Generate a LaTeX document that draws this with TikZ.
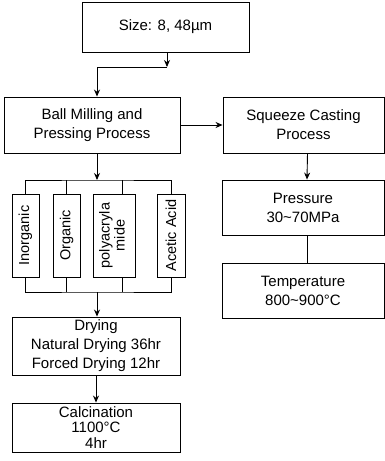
\documentclass[tikz,border=0pt]{standalone}
\usepackage{fontspec}
\setmainfont{Liberation Sans}
\usetikzlibrary{arrows.meta}
\newcommand{\boxfont}{\fontsize{15}{19}\selectfont}
\newcommand{\sidefont}{\fontsize{14.5}{15}\selectfont}
\begin{document}
\begin{tikzpicture}[x=1pt, y=1pt, >={Stealth[length=7pt,width=6pt]},
  box/.style={draw, line width=0.9pt, align=center, inner sep=1pt, font=\boxfont},
  addbox/.style={draw, line width=0.9pt, inner sep=0pt, minimum height=83pt, font=\sidefont}]
  \useasboundingbox (0,0) rectangle (385,-461);

  % powder and milling
  \node[box, minimum width=167pt, minimum height=50pt] (size) at (165.5,-27) {Size: 8, 48µm};
  \node[box, minimum width=176pt, minimum height=56pt] (ball) at (92,-125) {Ball Milling and\\Pressing Process};
  \node[box, minimum width=161pt, minimum height=56pt] (squeeze) at (303.5,-125) {Squeeze Casting\\Process};

  % additives
  \node[addbox, minimum width=27pt] (inorg) at (25.5,-235.5) {\rotatebox{90}{Inorganic}};
  \node[addbox, minimum width=27pt] (org) at (66.5,-235.5) {\rotatebox{90}{Organic}};
  \node[addbox, minimum width=42pt] (poly) at (114,-235.5) {\rotatebox{90}{\begin{tabular}{@{}c@{}}polyacryla\\mide\end{tabular}}};
  \node[addbox, minimum width=28pt] (acetic) at (171,-235.5) {\rotatebox{90}{Acetic Acid}};

  \node[box, minimum width=168pt, minimum height=58pt] (dry) at (96,-346) {Drying\\Natural Drying 36hr\\Forced Drying 12hr};
  \node[box, minimum width=168pt, minimum height=49pt, font=\fontsize{15}{15.5}\selectfont] (calc) at (96,-427.5) {Calcination\\1100°C\\4hr};

  % casting side
  \node[box, minimum width=162pt, minimum height=55pt] (press) at (303,-207.5) {Pressure\\30\textasciitilde70MPa};
  \node[box, minimum width=162pt, minimum height=55pt] (temp) at (303,-290.5) {Temperature\\800\textasciitilde900°C};

  \coordinate (turn) at (167,-67);
  \coordinate (split) at (97,-180);
  \coordinate (merge) at (97,-292);

  \begin{scope}[line width=0.9pt]
    \draw[->] (size.south -| turn) -- (turn);
    \draw[->] (turn) -| (split |- ball.north);
    \draw[->] (ball) -- (squeeze);
    \draw[->] (ball.south -| split) -- (split);
    \draw (inorg.north) |- (split) -| (acetic.north);
    \draw (org.north) -- (org.north |- split);
    \draw ([xshift=8pt]poly.north) -- ([xshift=8pt]poly.north |- split);
    \draw (inorg.south) |- (merge) -| (acetic.south);
    \draw (org.south) -- (org.south |- merge);
    \draw ([xshift=8pt]poly.south) -- ([xshift=8pt]poly.south |- merge);
    \draw[->] (merge) -- (dry.north -| merge);
    \draw[->] (dry) -- (calc);
    \draw[->] ([xshift=4pt]squeeze.south) -- ([xshift=4pt]press.north);
    \draw ([xshift=4pt]press.south) -- ([xshift=4pt]temp.north);
  \end{scope}
\end{tikzpicture}
\end{document}
